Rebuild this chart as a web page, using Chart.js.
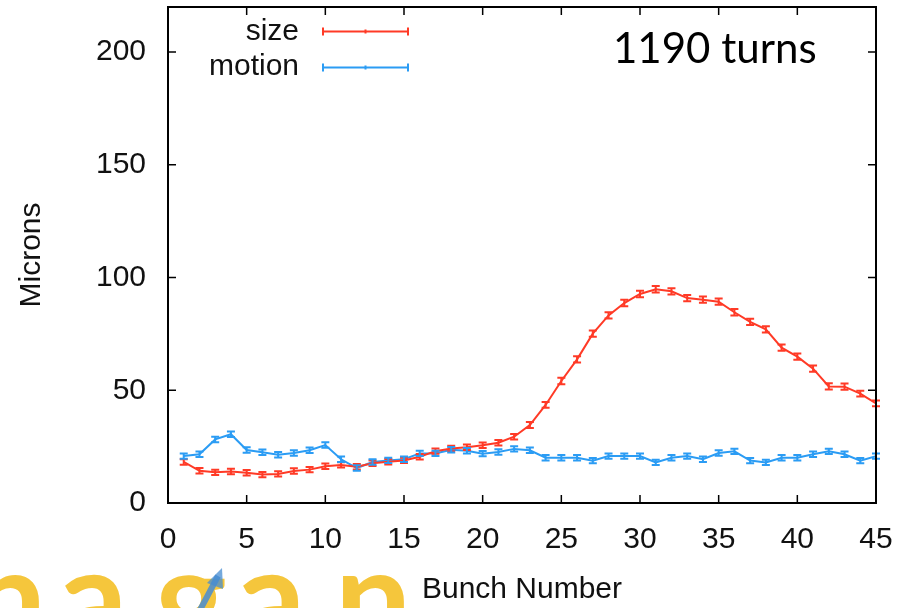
<!DOCTYPE html>
<html>
<head>
<meta charset="utf-8">
<script src="https://cdn.jsdelivr.net/npm/chart.js@4.4.1/dist/chart.umd.min.js"></script>
<style>
  html, body { margin: 0; padding: 0; background: #fff; }
  #wrap { position: relative; width: 908px; height: 608px; overflow: hidden; }
  canvas { display: block; }
</style>
</head>
<body>
<div id="wrap"><canvas id="c" width="908" height="608"></canvas></div>
<script>
// ---- data ----
const bunch = [1,2,3,4,5,6,7,8,9,10,11,12,13,14,15,16,17,18,19,20,21,22,23,24,25,26,27,28,29,30,31,32,33,34,35,36,37,38,39,40,41,42,43,44,45];
const sizeValues = [18.2,14.3,13.6,14.0,13.4,12.6,12.9,14.2,14.8,16.3,16.9,16.1,17.6,18.3,18.9,20.5,23.0,24.2,24.7,25.6,26.7,29.4,34.6,43.5,54.1,63.7,75.1,83.2,88.7,92.7,94.8,93.9,90.9,90.2,89.3,84.6,80.3,77.0,68.9,64.9,59.6,51.7,51.6,48.5,44.2];
const motionValues = [20.8,21.6,28.2,30.5,23.5,22.5,21.4,22.2,23.4,25.7,19.4,15.5,18.2,18.9,19.4,22.0,22.0,23.6,23.2,21.9,22.6,24.0,23.4,20.1,20.1,20.1,18.8,20.8,20.8,20.8,18.0,20.1,20.8,19.4,22.2,22.9,18.8,18.0,20.1,20.1,21.6,22.9,21.6,18.8,20.8];
const sizeErr = [1.2,1.2,1.2,1.2,1.2,1.2,1.2,1.2,1.2,1.2,1.2,1.2,1.2,1.2,1.2,1.2,1.2,1.2,1.2,1.2,1.2,1.2,1.3,1.3,1.4,1.4,1.4,1.4,1.4,1.4,1.4,1.4,1.4,1.4,1.4,1.4,1.4,1.4,1.4,1.4,1.4,1.4,1.4,1.3,1.3];
const motionErr = [1.2,1.2,1.2,1.2,1.2,1.2,1.2,1.2,1.2,1.2,1.2,1.2,1.2,1.2,1.2,1.2,1.2,1.2,1.2,1.2,1.2,1.2,1.2,1.2,1.2,1.2,1.2,1.2,1.2,1.2,1.2,1.2,1.2,1.2,1.2,1.2,1.2,1.2,1.2,1.2,1.2,1.2,1.2,1.2,1.2];
const seriesNames = ['size', 'motion'];
const xTicks = [0,5,10,15,20,25,30,35,40,45];
const yTicks = [0,50,100,150,200];
const xTitle = 'Bunch Number';
const yTitle = 'Microns';
const annotation = '1190 turns';
const logoLetters = ['n','a','g','a','n'];

// ---- styling ----
const RED = '#ff3a26';
const BLUE = '#2b9cf4';
const FONT = '"Liberation Sans", Arial, sans-serif';
const axisFont = { family: FONT, size: 30 };

const toPts = (vals) => vals.map((v, i) => ({ x: bunch[i], y: v }));

const errorBars = {
  id: 'errorBars',
  afterDatasetsDraw(chart) {
    const ctx = chart.ctx;
    const ys = chart.scales.y;
    chart.data.datasets.forEach((ds, di) => {
      const meta = chart.getDatasetMeta(di);
      ctx.save();
      ctx.strokeStyle = ds.borderColor;
      ctx.lineWidth = 2;
      meta.data.forEach((pt, i) => {
        const v = ds.data[i].y, e = ds.errs[i];
        const y1 = ys.getPixelForValue(v - e), y2 = ys.getPixelForValue(v + e);
        const x = pt.x;
        ctx.beginPath();
        ctx.moveTo(x, y1); ctx.lineTo(x, y2);
        ctx.moveTo(x - 4, y1); ctx.lineTo(x + 4, y1);
        ctx.moveTo(x - 4, y2); ctx.lineTo(x + 4, y2);
        ctx.stroke();
      });
      ctx.restore();
    });
  }
};

const frame = {
  id: 'frame',
  afterDraw(chart) {
    const ctx = chart.ctx;
    const a = chart.chartArea;
    const xs = chart.scales.x, ys = chart.scales.y;
    ctx.save();
    ctx.strokeStyle = '#000';
    ctx.lineWidth = 1.5;
    const T = 8;
    ctx.beginPath();
    xs.ticks.forEach(t => {
      const x = xs.getPixelForValue(t.value);
      ctx.moveTo(x, a.bottom); ctx.lineTo(x, a.bottom - T);
      ctx.moveTo(x, a.top); ctx.lineTo(x, a.top + T);
    });
    ys.ticks.forEach(t => {
      const y = ys.getPixelForValue(t.value);
      ctx.moveTo(a.left, y); ctx.lineTo(a.left + T, y);
      ctx.moveTo(a.right, y); ctx.lineTo(a.right - T, y);
    });
    ctx.stroke();
    ctx.lineWidth = 2;
    ctx.strokeRect(a.left, a.top, a.right - a.left, a.bottom - a.top);

    // legend (gnuplot style: text then sample)
    ctx.font = '30px ' + FONT;
    ctx.fillStyle = '#111';
    ctx.textAlign = 'right';
    ctx.textBaseline = 'alphabetic';
    const legendRows = [{ y: 31.5, base: 40 }, { y: 67.5, base: 75 }];
    chart.data.datasets.forEach((ds, i) => {
      const r = legendRows[i];
      ctx.fillText(ds.label, 299, r.base);
      ctx.strokeStyle = ds.borderColor;
      ctx.lineWidth = 2;
      ctx.beginPath();
      ctx.moveTo(323, r.y); ctx.lineTo(408, r.y);
      ctx.moveTo(323, r.y - 4); ctx.lineTo(323, r.y + 4);
      ctx.moveTo(408, r.y - 4); ctx.lineTo(408, r.y + 4);
      ctx.moveTo(365.5, r.y - 2); ctx.lineTo(365.5, r.y + 2);
      ctx.stroke();
    });

    // annotation
    ctx.fillStyle = '#000';
    ctx.textAlign = 'left';
    ctx.font = '42px Lato, "Open Sans", sans-serif';
    ctx.fillText(annotation, 613, 63);

    // partial logo at the bottom edge
    ctx.fillStyle = '#f5c63c';
    ctx.textAlign = 'center';
    ctx.font = 'bold 136px Lato, "Open Sans", sans-serif';
    const lx = [8, 93, 191, 271, 373];
    logoLetters.forEach((ch, i) => ctx.fillText(ch, lx[i], 646));
    ctx.strokeStyle = 'rgba(70,140,210,0.85)';
    ctx.lineWidth = 6;
    ctx.beginPath();
    ctx.moveTo(199, 612); ctx.lineTo(218, 576);
    ctx.stroke();
    ctx.fillStyle = 'rgba(70,140,210,0.75)';
    ctx.beginPath();
    ctx.moveTo(222, 568); ctx.lineTo(207, 583); ctx.lineTo(223, 589);
    ctx.closePath();
    ctx.fill();
    ctx.restore();
  }
};

new Chart(document.getElementById('c'), {
  type: 'line',
  data: {
    datasets: [
      { label: seriesNames[0], data: toPts(sizeValues), errs: sizeErr, borderColor: RED, backgroundColor: RED, borderWidth: 2, pointRadius: 0, tension: 0, fill: false },
      { label: seriesNames[1], data: toPts(motionValues), errs: motionErr, borderColor: BLUE, backgroundColor: BLUE, borderWidth: 2, pointRadius: 0, tension: 0, fill: false }
    ]
  },
  options: {
    responsive: false,
    animation: false,
    devicePixelRatio: 1,
    layout: { padding: { top: 7, right: 32, left: 0, bottom: 0 } },
    plugins: { legend: { display: false }, tooltip: { enabled: false } },
    scales: {
      x: {
        type: 'linear', min: 0, max: 45,
        afterBuildTicks(s) { s.ticks = xTicks.map(v => ({ value: v })); },
        afterFit(s) { s.height = 105; s.paddingLeft = 0; s.paddingRight = 0; },
        grid: { display: false, drawTicks: false },
        border: { display: false },
        ticks: { font: axisFont, color: '#111', padding: 19, maxRotation: 0, autoSkip: false },
        title: { display: true, text: xTitle, font: axisFont, color: '#111', padding: { top: 0, bottom: 0 } }
      },
      y: {
        type: 'linear', min: 0, max: 220,
        afterBuildTicks(s) { s.ticks = yTicks.map(v => ({ value: v })); },
        afterFit(s) { s.width = 168; s.paddingTop = 0; s.paddingBottom = 0; },
        grid: { display: false, drawTicks: false },
        border: { display: false },
        ticks: { font: axisFont, color: '#111', padding: 22 },
        title: { display: true, text: yTitle, font: axisFont, color: '#111', padding: { top: 14, bottom: 0 } }
      }
    }
  },
  plugins: [errorBars, frame]
});
</script>
</body>
</html>
